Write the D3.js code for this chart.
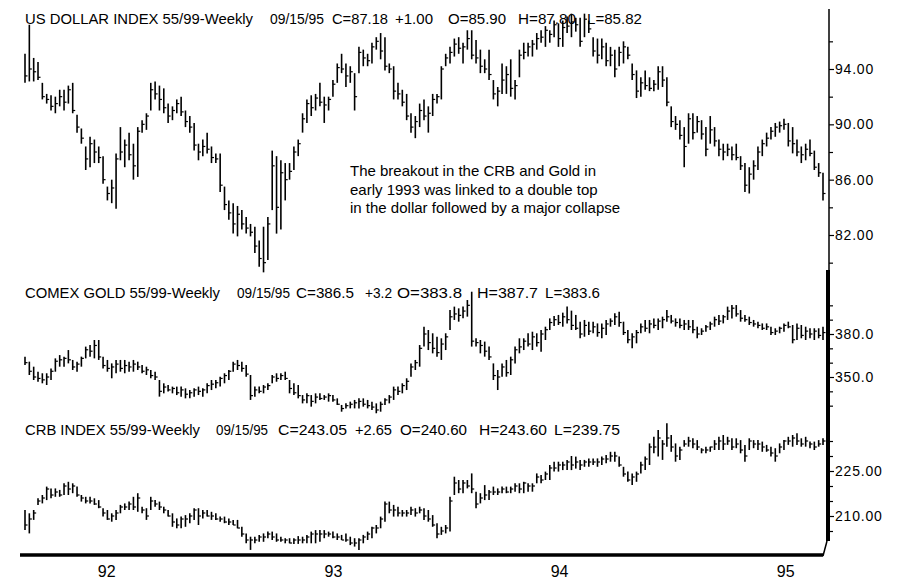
<!DOCTYPE html>
<html><head><meta charset="utf-8">
<script src="https://cdn.jsdelivr.net/npm/d3@7"></script>
<style>
html,body{margin:0;padding:0;background:#fff;}
svg{display:block;font-family:"Liberation Sans",Arial,sans-serif;}
</style></head><body>
<svg id="chart" width="900" height="582"></svg>
<script>
// ---------- DATA ----------
const firstWeek = "1991-08-23";
const lastWeek = "1995-03-03";
const yearTicks = ["1992-01-01","1993-01-01","1994-01-01","1995-01-01"];

const dollarHigh = [95.1,97.2,94.8,94.5,93.0,92.2,92.1,92.0,92.5,92.5,
92.8,93.0,90.7,89.7,88.4,89.1,88.9,88.4,87.7,85.5,
86.0,87.9,89.8,88.9,89.4,88.6,89.8,90.3,90.8,93.0,
93.1,92.8,92.6,91.5,91.3,91.8,92.0,91.0,90.6,90.1,
88.6,88.9,89.4,88.4,87.9,87.9,85.5,84.5,84.3,84.1,
83.8,83.3,82.8,82.6,81.6,82.6,83.3,88.1,87.7,87.4,
87.2,87.2,88.4,88.9,90.8,91.8,92.1,92.2,93.0,92.0,
92.0,93.2,94.4,95.1,94.4,94.2,93.7,95.6,95.4,95.1,
95.9,96.3,96.6,96.3,94.4,94.2,93.0,92.5,92.2,90.8,
90.6,91.5,91.8,91.3,92.2,92.2,94.2,95.1,95.6,96.2,
96.3,95.9,96.8,96.8,96.1,95.4,94.7,95.4,93.2,92.7,
94.4,94.2,94.7,93.2,95.4,95.9,95.9,96.1,96.6,96.8,
97.1,96.8,97.5,97.3,97.5,97.8,98.0,97.7,97.7,98.0,
97.5,96.3,96.2,96.2,95.9,95.6,95.4,95.6,96.0,95.6,
94.4,93.9,93.4,93.9,93.4,93.2,94.2,94.2,93.4,91.3,
90.6,90.3,89.8,90.8,90.8,90.6,90.3,89.8,90.6,89.8,
88.9,88.6,88.6,88.4,88.6,87.7,87.2,86.9,87.4,88.4,
88.9,89.4,89.8,90.1,90.2,90.4,90.1,89.8,88.9,88.4,
88.6,88.9,88.1,87.2,86.5];
const dollarLow = [93.0,93.1,93.1,93.2,91.8,91.5,91.0,90.8,91.3,91.0,
91.5,90.8,89.4,88.6,86.7,86.9,87.2,87.2,85.7,84.5,
84.3,83.9,87.4,86.9,87.4,86.0,86.2,89.4,89.6,91.0,
91.8,91.0,90.8,90.1,90.3,90.8,90.6,89.8,89.4,88.1,
87.4,87.7,87.9,87.2,87.2,85.1,83.8,83.1,82.1,81.9,
82.4,82.1,81.9,80.7,79.7,79.3,80.2,83.8,82.1,82.4,
84.5,86.0,86.7,87.7,89.4,90.1,90.6,91.0,91.3,90.1,
91.0,92.0,93.0,93.7,92.7,93.0,91.0,93.7,94.2,94.2,
94.4,95.4,94.7,93.9,93.7,91.8,91.8,91.3,90.3,89.4,
89.0,89.8,90.3,89.4,90.6,91.5,91.8,94.2,94.4,94.9,
95.1,94.4,95.4,94.7,94.4,93.7,93.7,93.2,91.8,91.3,
92.2,92.2,92.0,91.8,93.4,94.7,94.9,94.9,95.4,95.9,
95.6,95.9,96.3,95.6,95.6,96.6,96.3,96.7,95.6,96.3,
96.6,94.9,94.4,94.7,94.2,94.2,93.4,94.2,94.4,94.7,
93.2,91.9,92.0,92.5,92.4,92.4,92.5,92.7,91.3,89.8,
89.6,88.9,86.9,88.6,88.9,89.4,88.9,87.7,88.6,88.4,
87.7,87.4,87.7,87.4,87.4,86.7,85.1,85.0,86.0,86.7,
87.7,88.4,88.9,89.1,89.4,89.6,88.4,87.9,87.7,87.2,
87.4,87.7,86.7,86.2,84.5];
const dollarClose = [93.5,94.0,93.8,93.4,92.0,91.8,91.3,91.5,92.0,91.6,
92.5,91.0,89.8,89.0,87.5,88.6,88.0,87.6,86.0,85.0,
85.4,87.5,88.0,88.5,87.8,87.0,89.5,90.0,90.6,92.5,
92.2,91.8,91.2,90.6,91.0,91.5,90.9,90.2,89.8,88.5,
88.0,88.4,88.2,87.6,87.5,85.6,84.2,83.6,82.8,83.5,
82.8,82.5,82.2,81.2,80.3,80.0,82.8,87.0,84.0,86.5,
86.0,86.6,88.0,88.6,90.4,91.5,91.2,91.9,91.6,91.4,
91.8,92.9,94.1,94.0,93.5,93.8,92.0,95.2,94.8,94.6,
95.6,96.0,95.3,94.2,94.0,92.4,92.2,91.6,90.6,89.8,
90.2,91.0,90.6,90.8,91.8,92.0,94.0,94.8,95.2,95.8,
95.5,95.6,96.2,95.0,94.8,94.2,94.0,93.6,92.2,92.4,
93.2,93.6,92.6,92.8,95.0,95.2,95.6,95.8,96.2,96.3,
96.8,96.5,97.2,96.2,97.0,97.1,97.4,97.2,96.0,97.6,
96.9,95.3,95.0,95.6,94.6,95.0,94.0,95.2,95.6,95.0,
93.6,92.4,93.0,92.8,92.6,92.9,93.8,93.2,91.6,90.2,
90.0,89.2,88.4,90.4,89.4,90.2,89.3,88.2,89.6,88.8,
88.2,88.0,88.2,87.8,87.6,87.0,85.6,86.4,87.0,88.0,
88.6,89.0,89.5,89.8,89.9,90.0,88.8,88.6,88.0,87.8,
88.2,87.9,86.9,86.5,85.0];

const goldHigh = [364.2,360.7,357.2,353.7,352.6,352.6,356.0,363.0,365.3,364.2,
368.8,361.9,360.7,364.2,371.2,372.3,375.8,375.8,364.2,361.9,
359.5,361.9,361.9,361.9,360.7,361.9,360.7,358.4,357.2,354.9,
353.7,347.9,345.6,344.4,343.3,343.3,343.3,342.1,340.9,342.1,
343.3,342.1,345.6,347.9,347.9,350.2,352.6,354.9,360.7,361.9,
360.7,358.4,351.4,343.3,343.3,344.4,345.6,351.4,352.6,352.6,
353.7,347.9,345.6,344.4,337.4,338.6,337.4,338.6,338.6,337.4,
338.6,337.4,335.1,330.5,331.6,332.8,334.0,335.1,335.1,334.0,
332.8,331.6,332.8,335.1,337.4,343.3,343.3,345.6,349.1,359.5,
361.9,372.3,385.1,382.8,380.5,378.1,377.0,380.5,396.7,399.1,
397.9,399.1,403.7,409.5,377.0,375.8,374.7,371.2,359.5,354.9,
359.5,361.9,364.2,371.2,377.0,377.0,380.5,381.6,380.5,382.8,
385.1,390.9,392.6,393.3,394.9,399.1,396.3,393.3,388.6,389.8,
388.6,388.6,387.4,387.4,389.8,390.9,394.4,395.6,388.6,382.8,
380.5,382.8,387.4,389.8,389.8,390.9,390.9,392.1,396.7,393.3,
390.9,390.9,389.8,389.8,389.8,385.1,384.0,386.3,388.6,392.1,
393.3,393.3,399.1,400.2,400.2,396.7,393.3,392.1,389.8,388.6,
387.4,387.4,385.1,384.0,385.1,387.4,388.6,386.3,387.4,386.3,
385.1,384.0,384.0,384.0,385.1];
const goldLow = [358.4,351.4,347.9,346.7,345.6,344.4,347.9,353.7,357.2,357.2,
359.5,354.9,353.7,357.2,363.0,364.2,363.0,361.9,356.0,353.7,
349.1,352.6,353.7,352.6,353.7,353.7,354.9,352.6,351.4,349.1,
347.9,336.3,338.6,339.8,338.6,337.4,336.3,335.1,335.1,336.3,
337.4,336.3,338.6,340.9,342.1,343.3,345.6,347.9,353.7,354.9,
353.7,350.2,334.0,336.3,338.6,338.6,340.9,345.6,346.7,347.9,
347.9,338.6,337.4,335.1,331.6,331.6,329.3,331.6,334.0,334.0,
332.8,332.8,330.5,325.8,328.1,328.1,328.1,328.1,329.3,328.1,
327.0,324.7,325.8,330.5,331.6,334.0,337.4,338.6,340.9,350.2,
354.9,357.2,371.2,368.8,366.5,364.2,361.9,368.8,382.8,389.8,
388.6,391.0,392.1,371.2,371.2,366.5,364.2,361.9,347.9,340.9,
350.2,350.2,351.4,359.5,366.5,368.8,371.2,368.8,371.2,367.7,
375.8,382.8,385.6,386.3,385.1,387.4,382.8,382.8,377.0,378.1,
379.3,380.5,378.1,377.0,379.3,385.1,386.3,385.1,379.3,373.5,
370.0,373.5,380.5,381.6,380.5,384.0,382.8,384.0,388.6,387.4,
385.1,384.0,382.8,382.8,380.5,377.0,379.3,381.6,382.8,385.1,
386.3,387.4,389.8,390.9,392.1,388.6,388.6,386.3,385.1,384.0,
382.8,382.8,379.3,379.3,380.5,381.6,384.0,373.5,375.8,377.0,
375.8,377.0,375.8,377.0,375.8];
const goldClose = [360,354,350,349,348,350,354,361,362,363,
362,357,359,363,369,368,372,364,358,356,
357,359,356,358,357,359,357,354,355,351,
350,340,343,341,342,339,341,338,339,341,
340,341,344,345,346,349,351,354,359,358,
356,352,337,341,340,343,344,350,349,351,
349,342,339,337,334,337,333,336,335,336,
337,334,331,328,330,331,332,333,331,330,
329,327,331,334,336,341,340,344,347,357,
360,370,380,374,370,367,373,378,392,394,
393,396,400,375,374,372,368,364,351,350,
357,353,362,369,371,375,373,378,374,380,
383,388,390,388,392,390,386,384,380,386,
382,385,381,384,387,389,392,388,381,376,
378,381,385,384,387,386,389,390,392,389,
388,386,387,385,383,380,382,385,387,390,
389,392,396,398,394,391,390,388,387,386,
384,385,381,382,384,386,385,376,384,379,
382,380,382,379,381];

const crbHigh = [212.0,210.9,212.0,215.9,217.0,219.8,219.2,219.2,218.7,220.9,
221.4,220.9,219.8,217.0,216.4,216.4,215.9,215.3,212.6,212.0,
210.9,212.0,213.7,214.2,214.8,216.4,217.6,213.1,212.6,216.4,
215.3,214.8,213.1,212.0,210.9,209.2,209.8,210.3,210.9,212.6,
212.6,212.0,212.0,211.4,210.9,209.8,209.8,209.2,208.7,208.7,
206.4,204.2,203.1,203.1,203.7,204.2,204.8,204.8,204.2,203.1,
202.6,202.6,202.6,203.3,203.1,203.7,204.8,205.3,205.3,205.3,
204.8,204.8,204.2,203.7,204.2,203.1,202.6,202.6,203.7,204.8,
206.4,207.0,209.8,214.8,214.8,213.7,213.1,212.0,212.0,213.1,
212.6,213.1,212.6,212.0,210.3,207.6,206.4,207.0,216.4,223.1,
222.0,222.0,222.0,224.2,218.1,217.6,220.3,218.7,219.8,219.2,
219.8,219.8,219.8,220.9,220.9,221.4,220.9,220.9,224.2,223.7,
224.8,227.0,228.1,228.1,228.1,228.7,230.0,229.8,228.7,228.7,
229.2,229.2,229.2,229.8,230.3,231.4,231.4,229.8,226.4,224.8,
224.2,224.8,228.1,229.8,234.2,236.4,238.7,235.3,240.9,237.0,
234.2,233.1,235.3,236.4,235.9,235.3,232.6,233.1,233.1,235.3,
236.4,237.0,236.4,235.9,235.9,235.3,233.7,235.9,235.3,235.3,
234.8,233.7,233.1,232.6,234.2,235.3,236.4,237.0,237.6,235.9,
236.4,234.8,234.8,235.3,235.9];
const crbLow = [205.3,204.2,208.7,213.7,214.2,215.3,215.9,216.4,216.4,217.0,
217.0,217.6,216.4,214.8,214.2,214.2,213.7,212.6,209.8,208.7,
208.1,208.7,210.9,212.0,212.0,212.0,211.4,210.9,208.7,212.0,
213.1,212.0,210.9,209.8,206.4,205.9,205.9,206.4,207.6,208.7,
207.0,209.2,209.8,208.7,208.7,208.1,207.6,207.0,207.0,205.9,
203.1,200.9,198.7,200.9,201.4,201.4,202.6,202.0,201.4,201.4,
200.9,200.9,200.7,200.7,200.9,200.9,200.9,200.9,201.4,202.6,
203.1,202.6,202.0,202.0,201.4,200.3,199.8,198.7,200.9,202.0,
202.6,204.2,205.9,208.1,210.9,209.8,209.8,209.8,209.8,210.3,
209.8,210.9,208.7,208.1,206.4,202.6,203.7,204.2,204.8,217.0,
217.6,217.6,219.2,217.6,212.6,214.2,215.3,215.3,217.0,217.0,
217.6,217.6,217.6,218.1,217.6,217.6,218.1,218.1,220.9,220.9,
222.0,222.0,224.8,224.8,225.3,225.3,225.3,225.8,225.3,226.4,
226.4,227.0,226.4,227.0,227.6,228.1,228.1,226.4,223.1,221.4,
220.3,221.4,224.2,225.3,227.0,230.9,229.8,228.7,233.1,231.4,
228.1,228.7,233.1,233.1,232.6,232.0,230.9,230.9,231.4,232.0,
232.0,232.0,233.7,232.0,232.6,230.9,228.1,232.0,232.6,232.0,
231.4,231.4,229.8,228.1,230.9,232.0,233.7,233.1,233.7,233.1,
233.1,232.6,232.0,233.1,233.7];
const crbClose = [207,209,211,215,216,219,217,218,217,220,
219,220,217,216,215,215,214,213,211,209,
210,211,213,213,214,213,216,212,210,215,
214,213,212,210,208,207,209,209,210,212,
210,211,210,210,209,209,208,208,207,206,
204,202,202,202,203,203,204,203,202,202,
202,201,202,202,202,203,204,204,204,204,
204,203,203,202,202,201,201,202,203,204,
206,206,209,214,212,212,211,211,211,212,
211,212,210,209,207,204,205,206,215,221,
219,221,220,219,214,216,217,218,218,218,
219,218,219,220,219,221,220,220,223,222,
224,226,226,227,227,228,227,228,227,228,
228,228,228,229,229,230,230,227,224,222,
223,224,227,229,233,233,236,234,236,233,
230,232,234,235,234,233,232,232,233,234,
235,234,235,233,234,232,230,235,234,234,
233,232,231,230,233,235,235,236,235,234,
235,234,233,234,235];

const dollarTitle = ["US DOLLAR INDEX 55/99-Weekly","09/15/95","C=87.18","+1.00","O=85.90","H=87.80","L=85.82"];
const goldTitle = ["COMEX GOLD 55/99-Weekly","09/15/95","C=386.5","+3.2","O=383.8","H=387.7","L=383.6"];
const crbTitle = ["CRB INDEX 55/99-Weekly","09/15/95","C=243.05","+2.65","O=240.60","H=243.60","L=239.75"];
const noteLines = ["The breakout in the CRB and Gold in","early 1993 was linked to a double top","in the dollar followed by a major collapse"];

const dollarLabelTicks = [82,86,90,94];
const dollarMinorTicks = [80,84,88,92,96];
const goldLabelTicks = [350,380];
const goldMinorTicks = [330,340,360,370,390,400];
const crbLabelTicks = [210,225];
const crbMinorTicks = [205,215,220,230,235];

// ---------- LAYOUT (text placement, not data) ----------
const dollarTitleX = [25, 270, 332, 395, 448, 518, 587];
const dollarTitleW = [228, 54, 56, 38, 58, 58, 55];
const goldTitleX = [25, 237, 296, 365, 397, 477, 545];
const goldTitleW = [195, 53, 58, 27, 65, 61, 55];
const crbTitleX = [25, 216, 278, 355, 400, 479, 554];
const crbTitleW = [175, 52, 69, 37, 67, 68, 66];

// ---------- CHART ----------
const parse = d3.timeParse("%Y-%m-%d");
const startD = parse(firstWeek), endD = parse(lastWeek);
const dates = d3.timeFriday.range(startD, d3.timeDay.offset(endD, 1));

const svg = d3.select("#chart");
const x = d3.scaleTime().domain([startD, endD]).range([25, 823]);

const dollarY = d3.scaleLinear().domain([82, 94]).range([235, 69]);
const goldY = d3.scaleLinear().domain([350, 380]).range([377, 334]);
const crbY = d3.scaleLinear().domain([210, 225]).range([516, 471]);

function drawBars(cls, hi, lo, cl, y) {
  const g = svg.append("g").attr("class", cls);
  g.selectAll("line.hl").data(dates).join("line").attr("class","hl")
    .attr("x1", d => x(d)).attr("x2", d => x(d))
    .attr("y1", (d,i) => y(hi[i])).attr("y2", (d,i) => y(lo[i]))
    .attr("stroke", "#000").attr("stroke-width", 1.6);
  g.selectAll("line.cl").data(dates).join("line").attr("class","cl")
    .attr("x1", d => x(d)).attr("x2", d => x(d) + 2.5)
    .attr("y1", (d,i) => y(cl[i])).attr("y2", (d,i) => y(cl[i]))
    .attr("stroke", "#000").attr("stroke-width", 1.2);
}
drawBars("dollar", dollarHigh, dollarLow, dollarClose, dollarY);
drawBars("gold", goldHigh, goldLow, goldClose, goldY);
drawBars("crb", crbHigh, crbLow, crbClose, crbY);

// titles
function drawTitle(parts, xs, ws, baseline) {
  const g = svg.append("g");
  g.selectAll("text").data(parts).join("text")
    .attr("x", (d,i) => xs[i]).attr("y", baseline)
    .attr("textLength", (d,i) => ws[i]).attr("lengthAdjust", "spacingAndGlyphs")
    .attr("font-size", 14).attr("fill", "#000").text(d => d);
}
drawTitle(dollarTitle, dollarTitleX, dollarTitleW, 24);
drawTitle(goldTitle, goldTitleX, goldTitleW, 298);
drawTitle(crbTitle, crbTitleX, crbTitleW, 435);

// annotation
svg.append("g").selectAll("text").data(noteLines).join("text")
  .attr("x", 350).attr("y", (d,i) => 176 + i * 18.5)
  .attr("font-size", 15).attr("fill", "#000").text(d => d);

// right axes
const axX = 829;
function rightAxis(y, labels, minors, fmt) {
  const gL = svg.append("g").attr("transform", `translate(${axX},0)`)
    .call(d3.axisRight(y).tickValues(labels).tickFormat(d3.format(fmt)).tickSize(5).tickPadding(1));
  gL.select(".domain").remove();
  gL.selectAll("text").attr("font-size", 14).attr("font-family", '"Liberation Sans",Arial,sans-serif')
    .attr("letter-spacing", 0.8).attr("fill", "#000");
  gL.selectAll("line").attr("stroke", "#000").attr("stroke-width", 1.2);
  const gM = svg.append("g").attr("transform", `translate(${axX},0)`)
    .call(d3.axisRight(y).tickValues(minors).tickFormat("").tickSize(4));
  gM.select(".domain").remove();
  gM.selectAll("line").attr("stroke", "#000").attr("stroke-width", 1.2);
}
rightAxis(dollarY, dollarLabelTicks, dollarMinorTicks, ".2f");
rightAxis(goldY, goldLabelTicks, goldMinorTicks, ".1f");
rightAxis(crbY, crbLabelTicks, crbMinorTicks, ".2f");

svg.append("line").attr("x1", axX).attr("x2", axX).attr("y1", 9).attr("y2", 272)
  .attr("stroke", "#000").attr("stroke-width", 1.5);
svg.append("line").attr("x1", axX - 1).attr("x2", axX - 1).attr("y1", 270).attr("y2", 541)
  .attr("stroke", "#000").attr("stroke-width", 4);
svg.append("line").attr("x1", axX - 2).attr("x2", 823).attr("y1", 541).attr("y2", 556)
  .attr("stroke", "#000").attr("stroke-width", 1.5);

// bottom axis
svg.append("line").attr("x1", 20).attr("x2", 823).attr("y1", 555).attr("y2", 555)
  .attr("stroke", "#000").attr("stroke-width", 3.5);
const gx = svg.append("g").attr("transform", "translate(0,560)")
  .call(d3.axisBottom(x).tickValues(yearTicks.map(parse)).tickFormat(d3.timeFormat("%y")).tickSize(0).tickPadding(6));
gx.select(".domain").remove();
gx.selectAll("text").attr("font-size", 16).attr("font-family", '"Liberation Sans",Arial,sans-serif').attr("fill", "#000");
</script>
</body></html>
